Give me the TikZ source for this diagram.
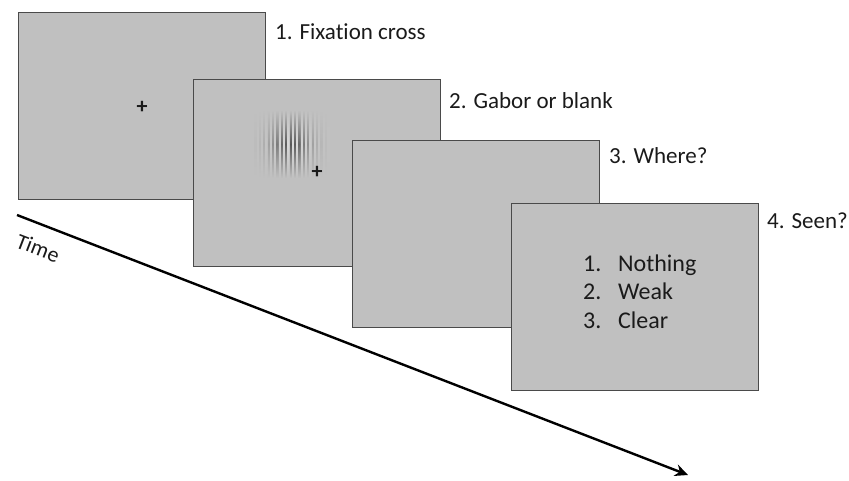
\documentclass[tikz,border=0pt]{standalone}
\usepackage{fontspec}
\setmainfont{Carlito}[Ligatures={NoCommon}]
\usetikzlibrary{arrows.meta}
\definecolor{panelgray}{HTML}{C0C0C0}
\definecolor{edgegray}{HTML}{4A4A4A}
\definecolor{txt}{HTML}{1A1A1A}
\begin{document}
\begin{tikzpicture}[x=1pt,y=-1pt,
  panel/.style={draw=edgegray, fill=panelgray, line width=1.1pt, minimum width=247pt, minimum height=187pt, anchor=north west, inner sep=0pt},
  lbl/.style={anchor=base west, font=\fontsize{23}{26}\selectfont, text=txt, inner sep=0pt},
  item/.style={anchor=base west, font=\fontsize{24}{27}\selectfont, text=txt, inner sep=0pt},
  fix/.style={font=\fontsize{22}{24}\selectfont\bfseries, text=txt, inner sep=0pt}]
\useasboundingbox (0,0) rectangle (849,480);
% time arrow
\coordinate (t0) at (17,215);
\coordinate (t1) at (688,475);
\draw[line width=2.4pt, -{Stealth[length=13pt,width=12pt]}] (t0) -- (t1);
\node[font=\fontsize{22}{24}\selectfont, text=txt, rotate=-21, anchor=center] (time) at (38,248) {Time};
% panels
\node[panel] (p1) at (18,12) {};
\node[fix] (c1) at (142,107) {+};
\node[lbl] (l1) at (275,39) {1. Fixation cross};
\node[panel] (p2) at (193,79) {};
% gabor: vertical stripes, gaussian envelope
\foreach \k in {-8,...,8}{
  \pgfmathsetmacro{\g}{exp(-(\k*4.4)^2/(2*14^2))}
  \pgfmathsetmacro{\pd}{100-55*\g}
  \pgfmathsetmacro{\pl}{100-40*\g}
  \pgfmathsetmacro{\xd}{291+\k*4.4-1.2}
  \pgfmathsetmacro{\xl}{291+\k*4.4+1.0}
  \shade[top color=panelgray, bottom color=panelgray, middle color=panelgray!\pd!black] (\xd,110) rectangle ++(2.2,68);
  \shade[top color=panelgray, bottom color=panelgray, middle color=panelgray!\pl!white] (\xl,110) rectangle ++(2.2,68);
}
\node[fix] (c2) at (317,172) {+};
\node[lbl] (l2) at (449,108) {2. Gabor or blank};
\node[panel] (p3) at (352,140) {};
\node[lbl] (l3) at (609,163) {3. Where?};
\node[panel] (p4) at (511,203) {};
\node[lbl] (l4) at (767,228) {4. Seen?};
\node[item] (n1) at (583,271) {1.};
\node[item] (w1) at (618,271) {Nothing};
\node[item] (n2) at (583,299) {2.};
\node[item] (w2) at (618,299) {Weak};
\node[item] (n3) at (583,328) {3.};
\node[item] (w3) at (618,328) {Clear};
\end{tikzpicture}
\end{document}
